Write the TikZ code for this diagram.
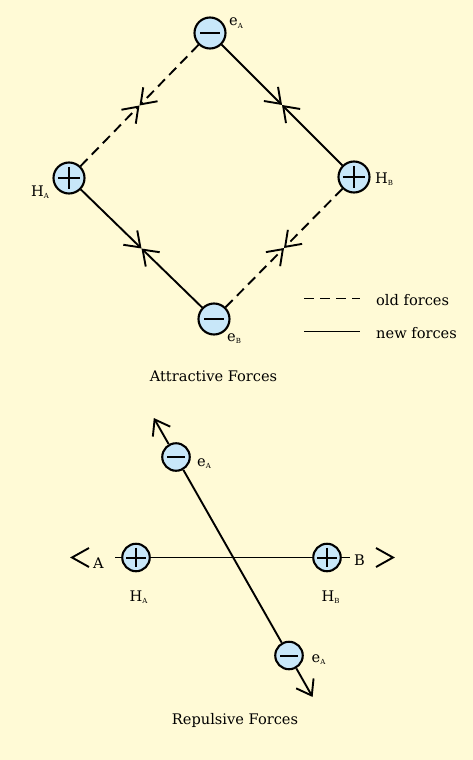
\documentclass[tikz,border=0pt]{standalone}
\usepackage{fontspec}
\setmainfont{DejaVu Serif}
\usetikzlibrary{arrows.meta,calc}
\definecolor{bgcol}{HTML}{FFFAD6}
\definecolor{ballcol}{HTML}{C8E7F9}
\newcommand\lsub[1]{\raisebox{-2.5pt}{\fontsize{7}{7}\selectfont #1}}
\begin{document}
\begin{tikzpicture}[x=1pt,y=-1pt,
  txt/.style={font=\fontsize{14.6}{17}\selectfont,inner sep=0pt,anchor=base west},
  ball/.style={circle,draw=black,line width=2.1pt,fill=ballcol,inner sep=0pt,minimum size=#1},
  neg/.style={ball=#1,path picture={\draw[line width=2pt]
     ($(path picture bounding box.center)!0.62!(path picture bounding box.west)$) --
     ($(path picture bounding box.center)!0.62!(path picture bounding box.east)$);}},
  pos/.style={ball=#1,path picture={\draw[line width=2pt]
     ($(path picture bounding box.center)!0.72!(path picture bounding box.west)$) --
     ($(path picture bounding box.center)!0.72!(path picture bounding box.east)$)
     ($(path picture bounding box.center)!0.72!(path picture bounding box.north)$) --
     ($(path picture bounding box.center)!0.72!(path picture bounding box.south)$);}},
  tipb/.tip={Straight Barb[length=14pt,width=20pt]},
  force/.style={line width=1.9pt,-tipb},
  oldforce/.style={force,dash pattern=on 10pt off 6pt},
  plain/.style={line width=1.9pt},
  chev/.style={line width=1.9pt,line join=miter}]
\fill[bgcol] (0,0) rectangle (473,760);
\useasboundingbox (0,0) rectangle (473,760);

% ---------- attractive forces ----------
\node[neg=31pt] (eA) at (210,33) {};
\node[pos=31pt] (HA) at (69,178) {};
\node[pos=31pt] (HB) at (354,177) {};
\node[neg=31pt] (eB) at (214,319) {};
\coordinate (m1) at ($(eA)!0.5!(HA)$);
\coordinate (m2) at ($(eA)!0.5!(HB)$);
\coordinate (m3) at ($(HA)!0.5!(eB)$);
\coordinate (m4) at ($(HB)!0.5!(eB)$);
\draw[oldforce] (eA) -- (m1);
\draw[oldforce] (HA) -- (m1);
\draw[force] (eA) -- (m2);
\draw[force] (HB) -- (m2);
\draw[force] (HA) -- (m3);
\draw[force] (eB) -- (m3);
\draw[oldforce] (HB) -- (m4);
\draw[oldforce] (eB) -- (m4);
\node[txt] (leA) at (229,26) {e\lsub{A}};
\node[txt] (lHA) at (31,196) {H\lsub{A}};
\node[txt] (lHB) at (375,183) {H\lsub{B}};
\node[txt] (leB) at (227,341) {e\lsub{B}};
% legend
\coordinate (d1) at (304,298.5);
\coordinate (d2) at (360,298.5);
\coordinate (s1) at (304,331.5);
\coordinate (s2) at (360,331.5);
\draw[plain,dash pattern=on 10pt off 6pt] (d1) -- (d2);
\draw[plain] (s1) -- (s2);
\node[txt] (lold) at (376,305) {old forces};
\node[txt] (lnew) at (376,338) {new forces};
\node[txt,anchor=base] (tatt) at (213.5,381) {Attractive Forces};

% ---------- repulsive forces ----------
\node[neg=27.5pt] (eA1) at (176,457) {};
\node[neg=27.5pt] (eA2) at (289,655.5) {};
\node[pos=27.5pt] (HA2) at (136,557.5) {};
\node[pos=27.5pt] (HB2) at (327,557.5) {};
\coordinate (tT) at (153.8,418);
\coordinate (tB) at (312.6,697);
\coordinate (hL) at (115,557.5);
\coordinate (hR) at (350,557.5);
\draw[force] (eA1) -- (tT);
\draw[plain] (eA1) -- (eA2);
\draw[force] (eA2) -- (tB);
\draw[plain] (hL) -- (HA2) -- (HB2) -- (hR);
\coordinate (cL) at (72,557.5);
\coordinate (cR) at (393,557.5);
\draw[chev] ($(cL)+(17,-9.5)$) -- (cL) -- ($(cL)+(17,9.5)$);
\draw[chev] ($(cR)+(-17,-9.5)$) -- (cR) -- ($(cR)+(-17,9.5)$);
\node[txt] (lA) at (93,568) {A};
\node[txt] (lB) at (354,565) {B};
\node[txt] (leA1) at (197,466) {e\lsub{A}};
\node[txt] (leA2) at (311.5,662) {e\lsub{A}};
\node[txt] (lHA2) at (129.5,601) {H\lsub{A}};
\node[txt] (lHB2) at (321.5,601) {H\lsub{B}};
\node[txt,anchor=base] (trep) at (235,724) {Repulsive Forces};
\end{tikzpicture}
\end{document}
